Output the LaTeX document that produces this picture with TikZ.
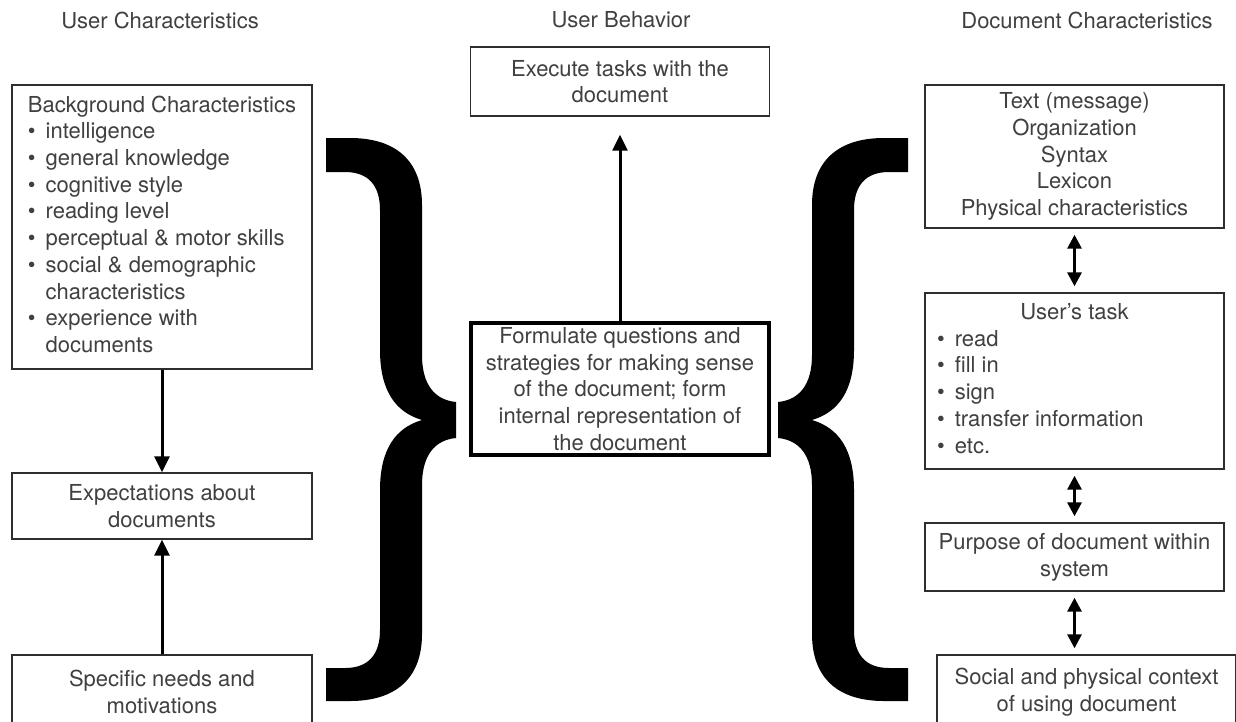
\documentclass[tikz,border=0pt]{standalone}
\usepackage{fontspec}
\setmainfont{TeX Gyre Heros}
\usetikzlibrary{arrows.meta}
\definecolor{inkgray}{HTML}{404040}
\definecolor{framegray}{HTML}{2E2E2E}
\newcommand{\bodyfont}{\fontsize{22}{26.7}\selectfont}
\tikzset{
  box/.style={draw=framegray, line width=1.4pt, minimum width=299pt,
              text=inkgray, font=\bodyfont, align=center, inner sep=0pt},
  mainbox/.style={box, draw=black, line width=3.5pt, minimum width=298pt},
  heading/.style={text=inkgray, font=\bodyfont, inner sep=0pt},
  flow/.style={line width=3pt, -{Triangle[length=16pt,width=15pt]}},
  twoway/.style={line width=3pt,
                 {Triangle[length=14pt,width=14pt]}-{Triangle[length=14pt,width=14pt]},
                 shorten <=6pt, shorten >=6pt},
  % big curly brace, opening to the left
  curly/.pic={
    \fill (0,0) -- (24,0) .. controls (69,0) and (96,22) .. (96,67)
      -- (96,217) .. controls (96,247) and (109,262) .. (130,264)
      -- (130,300) .. controls (109,302) and (96,317) .. (96,347)
      -- (96,496) .. controls (96,541) and (69,563) .. (24,563)
      -- (0,563) -- (0,530) -- (19,530) .. controls (42,530) and (54,517) .. (54,492)
      -- (54,352) .. controls (54,312) and (69,290) .. (96,282)
      .. controls (69,274) and (54,252) .. (54,212)
      -- (54,72) .. controls (54,47) and (42,34) .. (19,34) -- (0,34) -- cycle;
  }
}

\begin{document}
\begin{tikzpicture}[x=1pt,y=-1pt]
  \useasboundingbox (0,0) rectangle (1236,721);
  \fill[white] (0,0) rectangle (1236,721);
  \clip (0,0) rectangle (1236,721);

  % column headings
  \node[heading] (hdrUser) at (160,20) {User Characteristics};
  \node[heading] (hdrBehav) at (621,20) {User Behavior};
  \node[heading] (hdrDoc) at (1087,20) {Document Characteristics};

  % user side
  \node[box, minimum width=300pt, minimum height=284pt] (bgChar) at (162,227) {%
    \begin{tabular}{@{}c@{\hspace{10pt}}l@{}}
      \multicolumn{2}{@{}l@{}}{Background Characteristics}\\
      \textbullet & intelligence\\
      \textbullet & general knowledge\\
      \textbullet & cognitive style\\
      \textbullet & reading level\\
      \textbullet & perceptual \& motor skills\\
      \textbullet & social \& demographic\\
                  & characteristics\\
      \textbullet & experience with\\
                  & documents
    \end{tabular}};
  \node[box, minimum width=300pt, minimum height=66pt] (expect) at (162,506)
    {Expectations about\\documents};
  \node[box, minimum width=300pt, minimum height=74pt] (needs) at (162,692)
    {Specific needs and\\motivations};

  % behaviour
  \node[box, minimum height=69pt] (execTask) at (620,81.5)
    {Execute tasks with the\\document};
  \node[mainbox, minimum height=132pt] (formulate) at (620,389)
    {Formulate questions and\\strategies for making sense\\of the document; form\\internal representation of\\the document};

  % document side
  \node[box, minimum height=143pt] (docText) at (1074.5,156.5)
    {Text (message)\\Organization\\Syntax\\Lexicon\\Physical characteristics};
  \node[box, minimum height=176pt] (userTask) at (1074.5,381) {%
    \begin{tabular}{@{}c@{\hspace{10pt}}p{257pt}@{}}
      \multicolumn{2}{c}{User's task}\\
      \textbullet & read\\
      \textbullet & fill in\\
      \textbullet & sign\\
      \textbullet & transfer information\\
      \textbullet & etc.
    \end{tabular}};
  \node[box, minimum height=68pt] (purpose) at (1074.5,557)
    {Purpose of document within\\system};
  \node[box, minimum height=74pt] (context) at (1086.5,692)
    {Social and physical context\\of using document};

  % braces
  \pic at (326,138) {curly};
  \pic[xscale=-1] at (908,138) {curly};

  % connectors
  \draw[flow] (bgChar) -- (expect);
  \draw[flow] (needs) -- (expect);
  \draw[flow, shorten >=18pt] (formulate) -- (execTask);
  \draw[twoway] (docText) -- (userTask);
  \draw[twoway] (userTask) -- (purpose);
  \draw[twoway] (purpose.south) -- (purpose.south |- context.north);
\end{tikzpicture}
\end{document}
